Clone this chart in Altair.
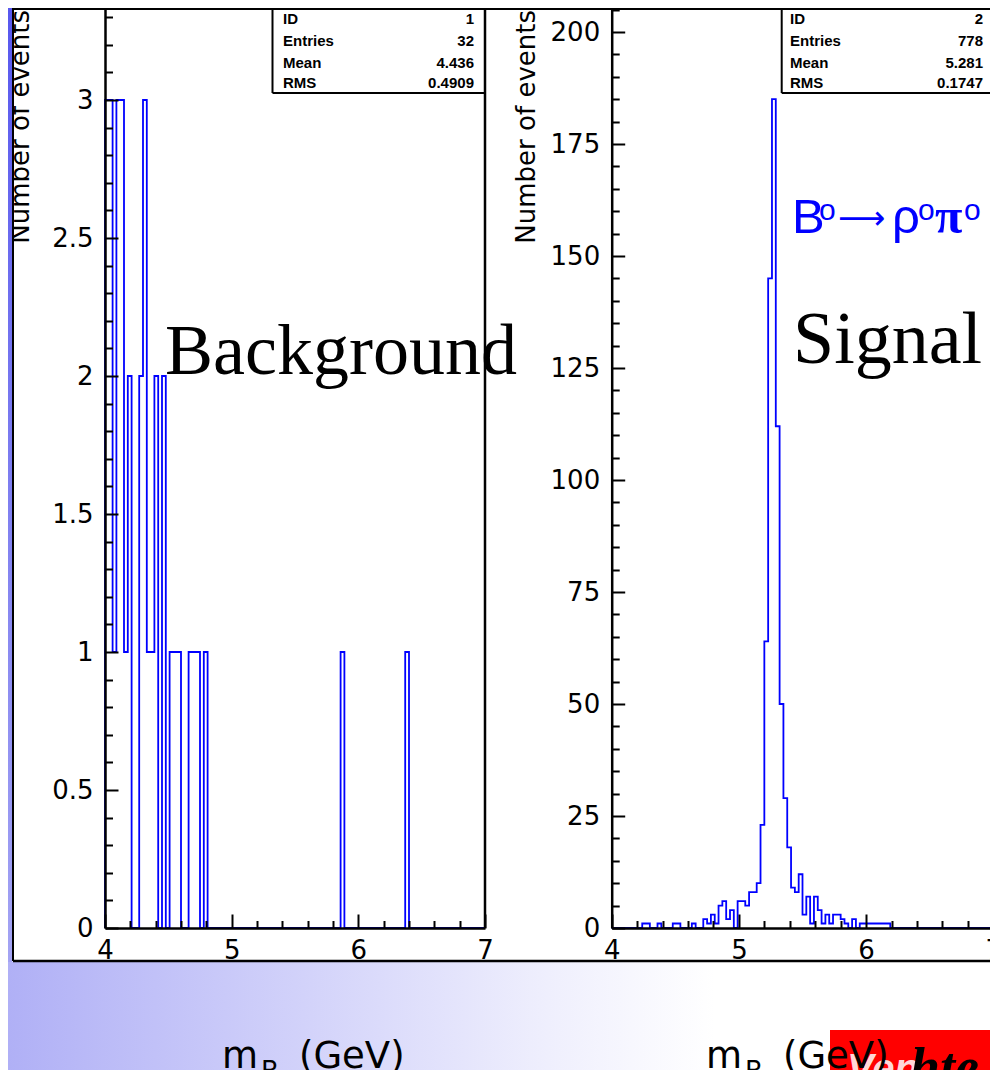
import altair as alt
import pandas as pd

# ---------------- data ----------------
BIN_WIDTH = 0.03          # GeV, 100 bins between 4 and 7 GeV
N_BINS = 100
X_MIN, X_MAX = 4.0, 7.0

# Background histogram (ID 1): lower edge of every non-empty bin and its content
bkg_bin_lo = [4.00, 4.03, 4.06, 4.09, 4.12, 4.15, 4.18, 4.27, 4.30, 4.33, 4.36,
              4.39, 4.45, 4.51, 4.54, 4.57, 4.66, 4.69, 4.72, 4.78, 5.86, 6.37]
bkg_counts = [3, 3, 1, 3, 3, 1, 2, 2, 3, 1, 1,
              2, 2, 1, 1, 1, 1, 1, 1, 1, 1, 1]

# Signal histogram (ID 2)
sig_bin_lo = [4.24, 4.27, 4.36, 4.48, 4.51, 4.63, 4.72, 4.75, 4.78, 4.81, 4.84,
              4.87, 4.90, 4.93, 4.99, 5.02, 5.05, 5.08, 5.11, 5.14, 5.17, 5.20,
              5.23, 5.26, 5.29, 5.32, 5.35, 5.38, 5.41, 5.44, 5.47, 5.50, 5.53,
              5.56, 5.59, 5.62, 5.65, 5.68, 5.71, 5.74, 5.77, 5.80, 5.83, 5.89,
              5.95, 5.98, 6.01, 6.04, 6.07, 6.10, 6.13, 6.16]
sig_counts = [1, 1, 1, 1, 1, 1, 2, 1, 3, 1, 5,
              6, 2, 4, 6, 6, 5, 8, 8, 10, 23, 64,
              145, 185, 112, 50, 29, 18, 9, 8, 12, 3, 7,
              1, 7, 4, 1, 3, 1, 3, 3, 2, 1, 2,
              1, 1, 1, 1, 1, 1, 1, 1]

x_ticks = [4, 5, 6, 7]
x_minor = [4.2, 4.4, 4.6, 4.8, 5.2, 5.4, 5.6, 5.8, 6.2, 6.4, 6.6, 6.8]
bkg_y_ticks = [0, 0.5, 1, 1.5, 2, 2.5, 3]
bkg_y_minor = [round(0.1 * k, 1) for k in range(1, 34) if k % 5 != 0]
sig_y_ticks = [0, 25, 50, 75, 100, 125, 150, 175, 200]
sig_y_minor = [5 * k for k in range(1, 42) if k % 5 != 0]

bkg_stats = [("ID", "1"), ("Entries", "32"), ("Mean", "4.436"), ("RMS", "0.4909")]
sig_stats = [("ID", "2"), ("Entries", "778"), ("Mean", "5.281"), ("RMS", "0.1747")]

y_title = "Number of events"
x_title_m, x_title_sub, x_title_unit = "m", "B", "(GeV)"

# ---------------- geometry ----------------
W, H = 982, 1062
Y0 = 920                       # zero line of both frames
L_X0, L_X1 = 97, 477
R_X0, R_X1 = 603.7, 985.3
BKG_TOP = 920 / 276.0
SIG_TOP = 920 / 4.48

dummy = pd.DataFrame({"d": [0]})


def step_frame(lo, counts):
    full = [0] * N_BINS
    for l, c in zip(lo, counts):
        full[int(round((l - X_MIN) / BIN_WIDTH))] = c
    xs = [X_MIN] + [round(X_MIN + BIN_WIDTH * k, 4) for k in range(N_BINS)] + [X_MAX]
    ys = [0] + full + [0]
    return pd.DataFrame({"m": xs, "n": ys, "i": list(range(len(xs)))})


def txt(s, x, y, size, font="DejaVu Sans", color="black", align="left",
        baseline="alphabetic", angle=0, weight="normal", style="normal"):
    kw = dict(align=align, baseline=baseline, font=font, fontSize=size,
              color=color, fontWeight=weight, fontStyle=style)
    if angle:
        kw["angle"] = angle
    return alt.Chart(dummy).mark_text(**kw).encode(
        x=alt.value(x), y=alt.value(y), text=alt.value(s))


def rule(x, x2, y, y2, width=2, color="black"):
    return alt.Chart(dummy).mark_rule(color=color, strokeWidth=width).encode(
        x=alt.value(x), x2=alt.value(x2), y=alt.value(y), y2=alt.value(y2))


def box(x, x2, y, y2, fill):
    return alt.Chart(dummy).mark_rect(fill=fill, strokeWidth=0).encode(
        x=alt.value(x), x2=alt.value(x2), y=alt.value(y), y2=alt.value(y2))


def grad(stops, horizontal=True):
    return alt.LinearGradient(
        gradient="linear",
        stops=[alt.GradientStop(color=c, offset=o) for o, c in stops],
        x1=0, y1=0, x2=1 if horizontal else 0, y2=0 if horizontal else 1)


def sc(lo, hi, r0, r1):
    return alt.Scale(domain=[lo, hi], range=[r0, r1], nice=False, zero=False)


def x_tick_axis(values, size, domain):
    return alt.Axis(orient="top", offset=-Y0, values=values, tickSize=size,
                    tickWidth=2, tickColor="black", domain=domain,
                    domainColor="black", domainWidth=2.5, labels=False,
                    title=None, grid=False, zindex=2)


def y_tick_axis(values, size, x0, domain):
    return alt.Axis(orient="right", offset=x0 - W, values=values, tickSize=size,
                    tickWidth=2, tickColor="black", domain=domain,
                    domainColor="black", domainWidth=2.5, labels=False,
                    title=None, grid=False, zindex=2)


def x_label_axis():
    return alt.Axis(orient="bottom", offset=Y0 - H, values=x_ticks, ticks=False,
                    tickSize=0, domain=False, labelPadding=9, labelFontSize=26,
                    labelFont="DejaVu Sans", labelColor="black", labelFlush=False,
                    labelOverlap=False, labelBaseline="top", format="d",
                    title=None, grid=False, zindex=2)


def y_label_axis(values, x0, fmt):
    return alt.Axis(orient="left", offset=-x0, values=values, ticks=False,
                    tickSize=0, domain=False, labelPadding=12, labelFontSize=26,
                    labelFont="DejaVu Sans", labelColor="black", labelFlush=False,
                    labelOverlap=False, format=fmt, title=None, grid=False,
                    zindex=2)


def hist_panel(df, x0, x1, top, yt, ym, fmt):
    xs = sc(X_MIN, X_MAX, x0, x1)
    ys = sc(0, top, Y0, 0)
    line = alt.Chart(df).mark_line(
        interpolate="step-after", color="#0000ff", strokeWidth=1.8).encode(
        x=alt.X("m:Q", scale=xs, axis=x_tick_axis(x_ticks, 14, True)),
        y=alt.Y("n:Q", scale=ys, axis=y_tick_axis(yt, 13, x0, True)),
        order="i:Q")
    ends = pd.DataFrame({"m": [X_MIN, X_MAX], "n": [0, top]})
    minor = alt.Chart(ends).mark_point(opacity=0).encode(
        x=alt.X("m:Q", scale=sc(X_MIN, X_MAX, x0, x1), axis=x_tick_axis(x_minor, 7.5, False)),
        y=alt.Y("n:Q", scale=sc(0, top, Y0, 0), axis=y_tick_axis(ym, 7.5, x0, False)))
    labels = alt.Chart(ends).mark_point(opacity=0).encode(
        x=alt.X("m:Q", scale=sc(X_MIN, X_MAX, x0, x1), axis=x_label_axis()),
        y=alt.Y("n:Q", scale=sc(0, top, Y0, 0), axis=y_label_axis(yt, x0, fmt)))
    return [line, minor, labels]


def stats_box(stats, x_left, x_right, x_lab, x_val):
    out = [rule(x_left, x_left, 0, 85), rule(x_left, x_right, 85, 85)]
    for (lab, val), yy in zip(stats, [11, 33, 54.5, 75]):
        out.append(txt(lab, x_lab, yy, 15, font="Liberation Sans", weight="bold", baseline="middle"))
        out.append(txt(val, x_val, yy, 15, font="Liberation Sans", weight="bold", baseline="middle", align="right"))
    return out


layers = []
# slide background below the panel
layers.append(box(0, W, 954, H, grad([(0, "#b0b0f6"), (0.3, "#d2d2fa"), (0.55, "#efeffd"),
                                      (0.72, "#ffffff"), (1, "#ffffff")])))
# logo in the lower right corner
layers.append(box(822, W, 1022, H, "#ff0000"))
layers.append(txt("Ven", 839, 1074, 40, font="Liberation Sans", color="#ffd8d8", weight="bold", style="italic"))
layers.append(txt("hte", 902, 1077, 54, font="Liberation Serif", weight="bold", style="italic"))
# x titles
for xm in (214, 698):
    layers.append(txt(x_title_m, xm, 1060, 37))
    layers.append(txt(x_title_sub, xm + 39, 1072, 26))
    layers.append(txt(x_title_unit, xm + 77, 1060, 37))

# histograms with their axes
layers += hist_panel(step_frame(bkg_bin_lo, bkg_counts), L_X0, L_X1, BKG_TOP, bkg_y_ticks, bkg_y_minor, "~g")
layers += hist_panel(step_frame(sig_bin_lo, sig_counts), R_X0, R_X1, SIG_TOP, sig_y_ticks, sig_y_minor, "d")

# frames
layers.append(rule(L_X1, L_X1, 0, Y0, 2.5))
layers += stats_box(bkg_stats, 264.5, L_X1, 275, 466)
layers += stats_box(sig_stats, 773.7, W, 782, 975)

# annotations
layers.append(txt("Background", 157, 366, 72, font="Liberation Serif"))
layers.append(txt("Signal", 785, 355, 74, font="Liberation Serif"))
blue = "#0000ff"
layers.append(txt("B", 784, 225, 49, font="Liberation Sans", color=blue))
layers.append(txt("o", 811, 212, 30, font="Liberation Sans", color=blue))
layers.append(txt("\u27f6", 830, 221, 33, font="DejaVu Sans", color=blue))
layers.append(txt("\u03c1", 884, 225, 49, font="Liberation Sans", color=blue))
layers.append(txt("o", 910, 212, 30, font="Liberation Sans", color=blue))
layers.append(txt("\u03c0", 927, 225, 50, font="Liberation Serif", color=blue, weight="bold"))
layers.append(txt("o", 956, 212, 30, font="Liberation Sans", color=blue))

# y titles
layers.append(txt(y_title, 527, 2, 26, angle=270, align="right"))
layers.append(txt(y_title, 21, 2, 26, angle=270, align="right"))

# left slide strip and panel border (drawn last, they clip the left title)
layers.append(box(0, 4.5, 0, 954, grad([(0, "#5858ee"), (0.5, "#7e7ef0"), (1, "#a4a4f3")], horizontal=False)))
layers.append(rule(5, 5, 0, 953, 2))
layers.append(rule(5, W, 1, 1, 2))
layers.append(rule(5, W, 953, 953, 2.5))

chart = alt.layer(*layers).resolve_scale(x="independent", y="independent").properties(
    width=W, height=H, autosize=alt.AutoSizeParams(type="none"), padding=0,
    background="white").configure_view(stroke=None)

chart.save("out.html", embed_options={"renderer": "svg", "actions": False})
